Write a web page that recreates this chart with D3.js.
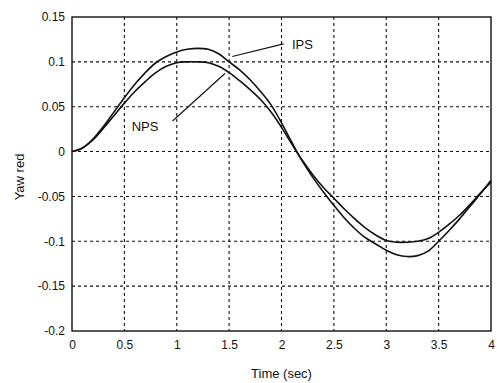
<!DOCTYPE html>
<html>
<head>
<meta charset="utf-8">
<script src="https://cdn.jsdelivr.net/npm/d3@7"></script>
<style>
  body { margin: 0; background: #fff; }
  text { font-family: "Liberation Sans", Arial, sans-serif; fill: #111; }
</style>
</head>
<body>
<div id="chart"></div>
<script>
// time samples (sec)
var times = [0,0.1,0.2,0.3,0.4,0.5,0.6,0.7,0.8,0.9,1.0,1.1,1.2,1.3,1.4,1.5,1.6,1.7,1.8,1.9,
             2.0,2.1,2.2,2.3,2.4,2.5,2.6,2.7,2.8,2.9,3.0,3.1,3.2,3.3,3.4,3.5,3.6,3.7,3.8,3.9,4.0];
// yaw rate, IPS
var ipsValues = [0,0.004,0.014,0.028,0.044,0.060,0.075,0.088,0.099,0.106,0.111,0.114,0.115,0.114,0.109,0.100,0.091,0.080,0.067,0.052,
                 0.032,0.010,-0.011,-0.029,-0.045,-0.060,-0.074,-0.086,-0.096,-0.103,-0.110,-0.115,-0.117,-0.116,-0.111,-0.100,-0.088,-0.075,-0.061,-0.047,-0.032];
// yaw rate, NPS
var npsValues = [0,0.004,0.013,0.026,0.040,0.054,0.067,0.078,0.088,0.095,0.099,0.100,0.100,0.099,0.095,0.088,0.079,0.069,0.058,0.044,
                 0.027,0.008,-0.010,-0.026,-0.040,-0.052,-0.064,-0.075,-0.085,-0.093,-0.099,-0.101,-0.101,-0.100,-0.097,-0.090,-0.081,-0.071,-0.059,-0.046,-0.034];

var xTicks = [0,0.5,1,1.5,2,2.5,3,3.5,4];
var yTicks = [-0.2,-0.15,-0.1,-0.05,0,0.05,0.1,0.15];
var yTickLabels = ["-0.2","-0.15","-0.1","-0.05","0","0.05","0.1","0.15"];

// labels with leader lines, in data units
var labels = [
  {name:"IPS", tx:2.1, ty:0.114, x1:2.02, y1:0.12, x2:1.53, y2:0.106},
  {name:"NPS", tx:0.57, ty:0.023, x1:0.96, y1:0.034, x2:1.46, y2:0.087}
];

var margin = {top:17, right:6, bottom:52, left:72},
    width = 497 - margin.left - margin.right,
    height = 383 - margin.top - margin.bottom;

var svg = d3.select("#chart").append("svg")
  .attr("width",497)
  .attr("height",383);

var g = svg.append("g")
  .attr("transform","translate(" + margin.left + "," + margin.top + ")");

var x = d3.scaleLinear().domain([0,4]).range([0,width]);
var y = d3.scaleLinear().domain([-0.2,0.15]).range([height,0]);

// grid
g.selectAll("line.vgrid")
  .data(xTicks.slice(1,-1))
  .enter().append("line")
  .attr("class","vgrid")
  .attr("x1",function(d){ return x(d); })
  .attr("x2",function(d){ return x(d); })
  .attr("y1",0).attr("y2",height)
  .attr("stroke","#111").attr("stroke-width",1.1)
  .attr("stroke-dasharray","3,3");

g.selectAll("line.hgrid")
  .data(yTicks.slice(1,-1))
  .enter().append("line")
  .attr("class","hgrid")
  .attr("y1",function(d){ return y(d); })
  .attr("y2",function(d){ return y(d); })
  .attr("x1",0).attr("x2",width)
  .attr("stroke","#111").attr("stroke-width",1.1)
  .attr("stroke-dasharray","3,3");

// axes
var xAxis = d3.axisBottom(x).tickValues(xTicks).tickSize(0).tickPadding(9)
  .tickFormat(function(d){ return String(d); });
var yAxis = d3.axisLeft(y).tickValues(yTicks).tickSize(0).tickPadding(7)
  .tickFormat(function(d,i){ return yTickLabels[i]; });

var gx = g.append("g").attr("transform","translate(0," + height + ")").call(xAxis);
var gy = g.append("g").call(yAxis);
[gx,gy].forEach(function(a){
  a.select(".domain").remove();
  a.selectAll("text").style("font-size","12px")
    .style("font-family","'Liberation Sans', Arial, sans-serif").attr("fill","#111");
});

// frame
g.append("rect")
  .attr("width",width).attr("height",height)
  .attr("fill","none").attr("stroke","#111").attr("stroke-width",1.4);

// curves
var line = d3.line()
  .x(function(d){ return x(d[0]); })
  .y(function(d){ return y(d[1]); })
  .curve(d3.curveCatmullRom);

[ipsValues, npsValues].forEach(function(vals){
  g.append("path")
    .datum(times.map(function(t,i){ return [t, vals[i]]; }))
    .attr("d",line)
    .attr("fill","none")
    .attr("stroke","#111")
    .attr("stroke-width",1.6);
});

// labels
labels.forEach(function(l){
  g.append("line")
    .attr("x1",x(l.x1)).attr("y1",y(l.y1))
    .attr("x2",x(l.x2)).attr("y2",y(l.y2))
    .attr("stroke","#111").attr("stroke-width",1.2);
  g.append("text")
    .attr("x",x(l.tx)).attr("y",y(l.ty))
    .style("font-size","13px")
    .text(l.name);
});

// axis titles
svg.append("text")
  .attr("x",margin.left + width/2).attr("y",378)
  .attr("text-anchor","middle")
  .style("font-size","13px")
  .text("Time (sec)");

svg.append("text")
  .attr("transform","translate(24," + (margin.top + height/2 + 3) + ") rotate(-90)")
  .attr("text-anchor","middle")
  .style("font-size","13px")
  .text("Yaw red");
</script>
</body>
</html>
